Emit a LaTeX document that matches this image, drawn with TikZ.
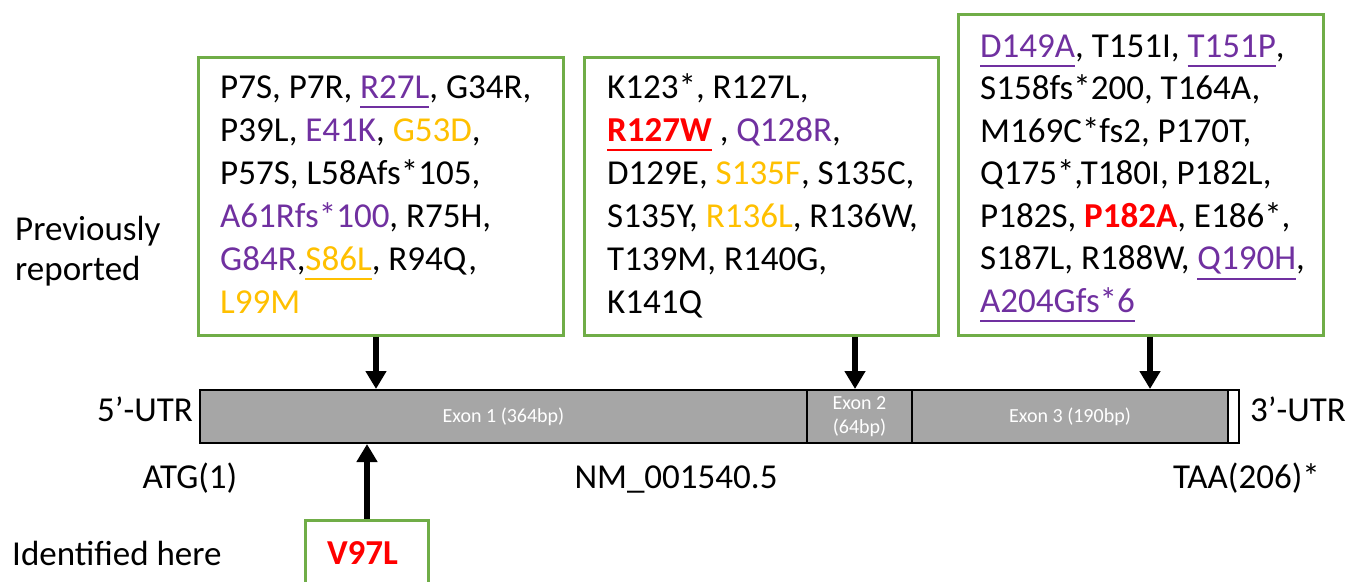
\documentclass[tikz,border=0pt]{standalone}
\usepackage{fontspec}
\setmainfont{Carlito}
\usetikzlibrary{arrows.meta}
\definecolor{mpurple}{HTML}{7030A0}
\definecolor{morange}{HTML}{FFC000}
\definecolor{mred}{HTML}{FF0000}
\definecolor{mgreen}{HTML}{70AD47}
\definecolor{bargray}{HTML}{A6A6A6}
% coloured mutation name with an underline of the same colour
\newcommand\mut[2]{\leavevmode\setbox0\hbox{\textcolor{#1}{#2}}\rlap{\textcolor{#1}{\rule[-10pt]{\wd0}{1.8pt}}}\box0}
\newcommand\cm[2]{\textcolor{#1}{#2}}
\tikzset{
  gbox/.style={draw=mgreen, line width=3pt, rectangle, inner sep=0pt},
  mutlist/.style={anchor=base west, inner sep=0pt},
  big/.style={font=\fontsize{35}{43}\selectfont, inner sep=0pt},
  exon/.style={draw=black, line width=2pt, fill=bargray, text=white, rectangle,
    minimum height=53pt, inner sep=0pt, align=center,
    font=\fontsize{20}{25}\selectfont},
  arr/.style={line width=6.5pt, -{Triangle[width=20pt,length=18pt]}}
}
\begin{document}
\begin{tikzpicture}[x=1pt,y=-1pt]
\clip (0,0) rectangle (1346,581);
\fill[white] (0,0) rectangle (1346,581);

% gene model: three exons and the 3' untranslated end
\node[exon, minimum width=607pt] (ex1) at (503.5,416.5) {Exon 1 (364bp)};
\node[exon, minimum width=105pt] (ex2) at (859.5,416.5) {Exon 2\\[-1pt](64bp)};
\node[exon, minimum width=316pt] (ex3) at (1070,416.5) {Exon 3 (190bp)};
\node[exon, minimum width=11pt, fill=white] (utr) at (1233.5,416.5) {};

% labels around the gene
\node[big, anchor=base east] (u5) at (193,421) {5’-UTR};
\node[big, anchor=base west] (u3) at (1250,421) {3’-UTR};
\node[big, anchor=base] (atg) at (190,488) {ATG(1)};
\node[big, anchor=base] (nm) at (676,488) {NM\_001540.5};
\node[big, anchor=base east] (taa) at (1320,488) {TAA(206)*};
\node[big, anchor=base west] (prev) at (15,240)
  {\parbox[t]{200pt}{\fontsize{35}{40}\selectfont Previously\\reported}};
\node[big, anchor=base west] (ident) at (12,565) {Identified here};

% mutation boxes
\node[gbox, minimum width=365pt, minimum height=278pt] (b1) at (380.5,196) {};
\node[gbox, minimum width=354pt, minimum height=278pt] (b2) at (761,196) {};
\node[gbox, minimum width=365pt, minimum height=321pt] (b3) at (1140.5,174.5) {};
\node[gbox, minimum width=123pt, minimum height=80pt] (b4) at (366.5,560) {};

\node[mutlist] (t1) at (220,98) {\parbox[t]{340pt}{\fontsize{35}{43}\selectfont
P7S, P7R, \mut{mpurple}{R27L}, G34R,\\
P39L, \cm{mpurple}{E41K}, \cm{morange}{G53D},\\
P57S, L58Afs*105,\\
\cm{mpurple}{A61Rfs*100}, R75H,\\
\cm{mpurple}{G84R},\mut{morange}{S86L}, R94Q,\\
\cm{morange}{L99M}}};

\node[mutlist] (t2) at (607,98) {\parbox[t]{330pt}{\fontsize{35}{43}\selectfont
K123*, R127L,\\
\mut{mred}{\textbf{R127W}}\ , \cm{mpurple}{Q128R},\\
D129E, \cm{morange}{S135F}, S135C,\\
S135Y, \cm{morange}{R136L}, R136W,\\
T139M, R140G,\\
K141Q}};

\node[mutlist] (t3) at (980,57) {\parbox[t]{340pt}{\fontsize{35}{42.5}\selectfont
\mut{mpurple}{D149A}, T151I, \mut{mpurple}{T151P},\\
S158fs*200, T164A,\\
M169C*fs2, P170T,\\
Q175*,T180I, P182L,\\
P182S, \cm{mred}{\textbf{P182A}}, E186*,\\
S187L, R188W, \mut{mpurple}{Q190H},\\
\mut{mpurple}{A204Gfs*6}}};

\node[big, anchor=base, text=mred, font=\fontsize{35}{43}\selectfont\bfseries] (v97) at (362.5,564) {V97L};

% arrows from the boxes to their positions on the gene
\coordinate (p1) at (376,389);
\coordinate (p2) at (855,389);
\coordinate (p3) at (1150,389);
\coordinate (p4) at (367,444);
\draw[arr] (b1.south -| p1) -- (p1);
\draw[arr] (b2.south -| p2) -- (p2);
\draw[arr] (b3.south -| p3) -- (p3);
\draw[arr] (b4.north -| p4) -- (p4);
\end{tikzpicture}
\end{document}
